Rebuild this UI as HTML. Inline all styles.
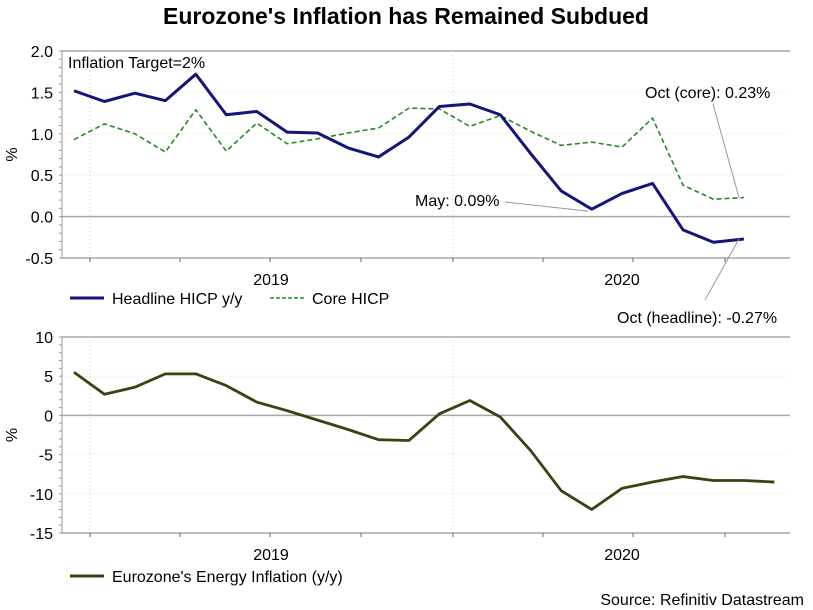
<!DOCTYPE html>
<html><head><meta charset="utf-8"><style>
body{margin:0;background:#fff;}
svg{display:block;font-family:"Liberation Sans",Arial,sans-serif;}
</style></head><body>
<svg id="c" width="813" height="610" viewBox="0 0 813 610" xmlns="http://www.w3.org/2000/svg">
<text x="406" y="24" text-anchor="middle" font-size="23" font-weight="bold">Eurozone's Inflation has Remained Subdued</text>
<g id="topPanel"></g>
<g id="botPanel"></g>
<text x="804" y="605" text-anchor="end" font-size="16">Source: Refinitiv Datastream</text>
</svg>
<script>
const headline=[1.52,1.39,1.49,1.40,1.72,1.23,1.27,1.02,1.01,0.83,0.72,0.96,1.33,1.36,1.23,0.76,0.31,0.09,0.28,0.40,-0.16,-0.31,-0.27];
const core=[0.93,1.12,1.00,0.78,1.29,0.79,1.13,0.88,0.94,1.01,1.07,1.31,1.30,1.09,1.22,1.03,0.86,0.90,0.84,1.19,0.38,0.21,0.23];
const energy=[5.5,2.7,3.6,5.3,5.3,3.8,1.7,0.6,-0.6,-1.8,-3.1,-3.2,0.2,1.9,-0.2,-4.5,-9.6,-12.0,-9.3,-8.5,-7.8,-8.3,-8.3,-8.5];
const topTicks=["2.0","1.5","1.0","0.5","0.0","-0.5"];
const botTicks=["10","5","0","-5","-10","-15"];
const years=["2019","2020"];

const NS="http://www.w3.org/2000/svg";
const L=62,R=790,FS=16;
const xs=i=>74+i*30.45;
function el(p,t,a){const e=document.createElementNS(NS,t);for(const k in a)e.setAttribute(k,a[k]);p.appendChild(e);return e;}
function panel(g,y0,y1,ticks,yfun,minorStep){
  const vals=ticks.map(Number);
  vals.forEach((v,idx)=>{
    const y=yfun(v);
    const solid=(idx===0||v===0||idx===vals.length-1);
    const ln=el(g,'line',{x1:L,x2:R,y1:y,y2:y,stroke:solid?'#a8a8a8':'#e8e0b0','stroke-width':solid?1.5:1,'stroke-dasharray':solid?'none':'1,3'});
    
    
    const t=el(g,'text',{x:L-9,y:y+6,'text-anchor':'end','font-size':FS});
    t.textContent=ticks[idx];
    
    
  });
  const lo=vals[vals.length-1],hi=vals[0];
  const n=Math.round((hi-lo)/minorStep);
  for(let k=0;k<=n;k++){const v=lo+k*minorStep;el(g,'line',{x1:L-3,x2:L,y1:yfun(v),y2:yfun(v),stroke:'#999'});}
  el(g,'line',{x1:L,x2:L,y1:y0,y2:y1,stroke:'#999'});
  [90,453].forEach(x=>el(g,'line',{x1:x,x2:x,y1:y0,y2:y1,stroke:'#b8d8b8','stroke-dasharray':'1,3'}));
  [90,180,270,361,453,543,633,725].forEach(x=>el(g,'line',{x1:x,x2:x,y1:y1,y2:y1+4,stroke:'#666'}));
  [[271,years[0]],[622,years[1]]].forEach(([x,s])=>{const t=el(g,'text',{x:x,y:y1+27,'text-anchor':'middle','font-size':FS});t.textContent=s;});
  const my=(y0+y1)/2;
  const yl=el(g,'text',{x:17,y:my,'text-anchor':'middle','font-size':FS,transform:'rotate(-90 17 '+my+')'});yl.textContent='%';
  
  
}
function line(g,arr,yfun,stroke,w,dash,name){
  const p=el(g,'polyline',{points:arr.map((v,i)=>xs(i)+','+yfun(v)).join(' '),fill:'none',stroke:stroke,'stroke-width':w,'stroke-dasharray':dash,'stroke-linejoin':'round'});
  
  
}
function txt(g,x,y,s,name){const t=el(g,'text',{x:x,y:y,'font-size':FS});t.textContent=s;return t;}

const gTop=document.getElementById('topPanel'),gBot=document.getElementById('botPanel');
const yT=v=>216.6-v*82.8;
panel(gTop,51,258,topTicks,yT,0.1);
line(gTop,core,yT,'#228b22',1.6,'5,3','core-hicp-line');
line(gTop,headline,yT,'#14147a',3,'none','headline-hicp-line');
txt(gTop,68,68,'Inflation Target=2%','target-annotation');
txt(gTop,645,98,'Oct (core): 0.23%','core-annotation');
el(gTop,'line',{x1:713,y1:104,x2:739,y2:yT(core[22]),stroke:'#999'});
txt(gTop,415,206,'May: 0.09%','may-annotation');
el(gTop,'line',{x1:505,y1:202,x2:588,y2:yT(headline[17])+2,stroke:'#999'});
txt(gTop,617,323,'Oct (headline): -0.27%','headline-annotation');
el(gTop,'line',{x1:705,y1:300,x2:739,y2:yT(headline[22]),stroke:'#999'});
el(gTop,'line',{x1:70,x2:104,y1:298,y2:298,stroke:'#14147a','stroke-width':3});
txt(gTop,112,304,'Headline HICP y/y','legend-headline');
el(gTop,'line',{x1:270,x2:304,y1:298,y2:298,stroke:'#228b22','stroke-width':1.6,'stroke-dasharray':'4,2'});
txt(gTop,312,304,'Core HICP','legend-core');

const yB=v=>415.4-v*7.84;
panel(gBot,337,533,botTicks,yB,1);
line(gBot,energy,yB,'#3f3f10',2.8,'none','energy-inflation-line');
el(gBot,'line',{x1:70,x2:104,y1:576,y2:576,stroke:'#3f3f10','stroke-width':3});
txt(gBot,112,582,"Eurozone's Energy Inflation (y/y)",'legend-energy');
</script>
</body></html>
